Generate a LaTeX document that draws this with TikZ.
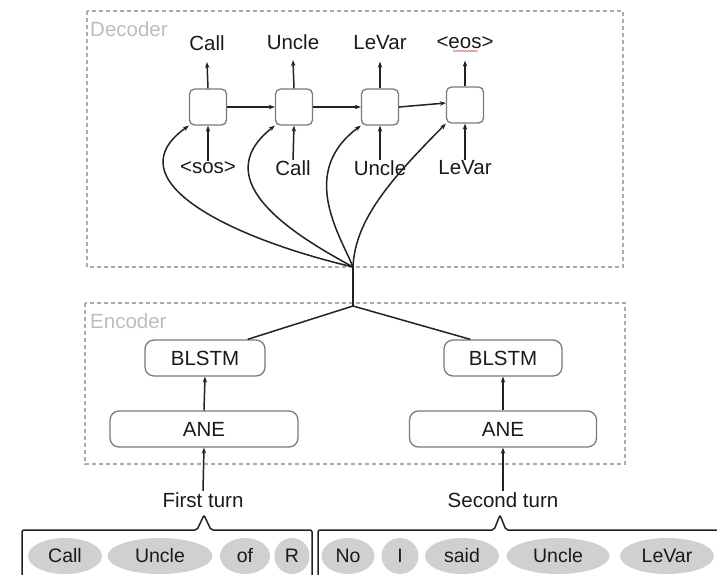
\documentclass[tikz,border=0pt]{standalone}
\usepackage{fontspec}
\setmainfont{Liberation Sans}
\usetikzlibrary{arrows.meta,shapes.geometric,decorations.pathmorphing}
\definecolor{txt}{HTML}{1A1A1A}
\definecolor{boxgray}{HTML}{7A7A7A}
\definecolor{dashgray}{HTML}{ABABAB}
\definecolor{lblgray}{HTML}{BDBDBD}
\definecolor{ellgray}{HTML}{D0D0D0}
\definecolor{linecol}{HTML}{222222}
\definecolor{spellred}{HTML}{E07070}
\tikzset{
  every node/.style={font=\fontsize{20.5}{23}\selectfont, text=txt},
  arr/.style={draw=linecol, line width=1.5pt, -{Stealth[length=6pt,width=4.5pt]}},
  plain/.style={draw=linecol, line width=1.5pt},
  cell/.style={draw=boxgray, line width=1.3pt, rounded corners=5pt, minimum width=37pt, minimum height=36pt, inner sep=0pt},
  encbox/.style={draw=boxgray, line width=1.3pt, rounded corners=9pt, minimum height=36pt, inner sep=0pt},
  frame/.style={draw=dashgray, line width=1.4pt, dash pattern=on 4pt off 3pt},
  framelbl/.style={text=lblgray, anchor=west, inner sep=0pt},
  word/.style={ellipse, fill=ellgray, minimum height=36pt, inner sep=0pt, font=\fontsize{19.5}{22}\selectfont},
  bracket/.style={draw=linecol, line width=1.5pt, rounded corners=2pt}
}
\begin{document}
\begin{tikzpicture}[x=1pt,y=-1pt]
\useasboundingbox (0,0) rectangle (717,574);
% frames
\draw[frame] (87,11) rectangle (623,267);
\node[framelbl] (declbl) at (90,29) {Decoder};
\draw[frame] (85,303) rectangle (625,464);
\node[framelbl] (enclbl) at (90,321) {Encoder};
% decoder cells
\node[cell] (d1) at (208,107) {};
\node[cell] (d2) at (294,107) {};
\node[cell] (d3) at (380,107) {};
\node[cell] (d4) at (465,105) {};
% outputs
\node (o1) at (207,43) {Call};
\node (o2) at (293,42) {Uncle};
\node (o3) at (380,43) {LeVar};
\node (o4) at (465,43) {<eos>};
\draw[spellred, line width=0.8pt, decorate, decoration={snake, amplitude=0.6pt, segment length=3pt}] (453,51) -- (478,51);
\draw[arr] (d1.north) -- ([yshift=-8pt]o1.south);
\draw[arr] (d2.north) -- ([yshift=-7pt]o2.south);
\draw[arr] (d3.north) -- ([yshift=-8pt]o3.south);
\draw[arr] (d4.north) -- ([yshift=-8pt]o4.south);
% inputs
\node (i1) at (208,168) {<sos>};
\node (i2) at (293,168) {Call};
\node (i3) at (380,168) {Uncle};
\node (i4) at (465,168) {LeVar};
\draw[arr] ([yshift=-3pt]i1.north) -- (d1.south);
\draw[arr] ([yshift=-3pt]i2.north) -- (d2.south);
\draw[arr] ([yshift=-3pt]i3.north) -- (d3.south);
\draw[arr] ([yshift=-3pt]i4.north) -- (d4.south);
% recurrent
\draw[arr] (d1.east) -- (d2.west);
\draw[arr] (d2.east) -- (d3.west);
\draw[arr] (d3.east) -- ([yshift=2pt]d4.west);
% hub and curves
\coordinate (H) at (353,267);
\coordinate (S) at (353,306);
\draw[arr] (H) .. controls (230,238) and (112,180) .. (d1.south west);
\draw[arr] (H) .. controls (300,238) and (203,182) .. (d2.south west);
\draw[arr] (H) .. controls (340,235) and (298,172) .. (d3.south west);
\draw[arr] (H) .. controls (355,220) and (390,180) .. (d4.south west);
% encoder
\node[encbox, minimum width=120pt] (b1) at (205,358) {BLSTM};
\node[encbox, minimum width=118pt] (b2) at (503,358) {BLSTM};
\node[encbox, minimum width=188pt] (a1) at (204,429) {ANE};
\node[encbox, minimum width=187pt] (a2) at (503,429) {ANE};
\draw[plain] (H) -- (S);
\draw[plain] (S) -- ([xshift=-18pt]b1.north east);
\draw[plain] (S) -- ([xshift=27pt]b2.north west);
\draw[arr] (a1.north) -- (b1.south);
\draw[arr] (a2.north) -- (b2.south);
% turns
\node (t1) at (203,500) {First turn};
\node (t2) at (503,500) {Second turn};
\draw[arr] ([yshift=-2pt]t1.north) -- (a1.south);
\draw[arr] ([yshift=-2pt]t2.north) -- (a2.south);
% brackets
\coordinate (p1) at (204,515);
\coordinate (p2) at (500,515);
\draw[bracket] (22,580) -- (22,530) -- (197,530) -- (p1) -- (211,530) -- (312,530) -- (312,580);
\draw[bracket] (318,580) -- (318,530) -- (494,530) -- (p2) -- (506,530) -- (725,530);
% words
\node[word, minimum width=74pt] (w1) at (65,556) {Call};
\node[word, minimum width=105pt] (w2) at (160,556) {Uncle};
\node[word, minimum width=50pt] (w3) at (245,556) {of};
\node[word, minimum width=35pt] (w4) at (292,556) {R};
\node[word, minimum width=53pt] (w5) at (348,556) {No};
\node[word, minimum width=37pt] (w6) at (400,556) {I};
\node[word, minimum width=74pt] (w7) at (462,556) {said};
\node[word, minimum width=103pt] (w8) at (558,556) {Uncle};
\node[word, minimum width=94pt] (w9) at (667,556) {LeVar};
\end{tikzpicture}
\end{document}
